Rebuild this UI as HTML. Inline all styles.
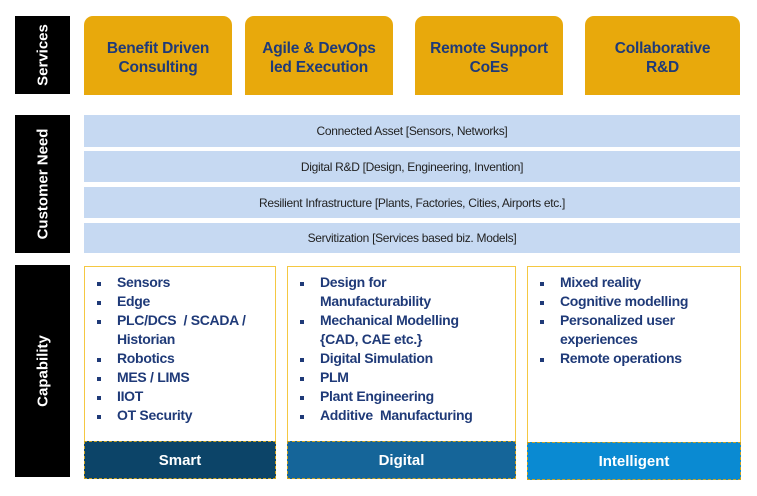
<!DOCTYPE html>
<html><head><style>
body{margin:0;width:757px;height:496px;background:#fff;position:relative;font-family:"Liberation Sans",sans-serif;overflow:hidden}
.bar{position:absolute;left:15px;width:55px;background:#000;}
.bar span{position:absolute;left:50%;top:50%;transform:translate(-50%,-50%) rotate(-90deg);color:#fff;font-weight:bold;font-size:15px;white-space:nowrap}
.svc{position:absolute;top:16px;height:79px;padding-top:4px;box-sizing:border-box;background:#e8a90c;border-radius:9px 9px 0 0;color:#1f3a78;font-weight:bold;font-size:15.5px;text-align:center;display:flex;align-items:center;justify-content:center;line-height:19px;letter-spacing:-0.2px}
.row{position:absolute;left:84px;width:656px;background:#c6d9f2;color:#222;font-size:12px;text-align:center;letter-spacing:-0.3px;display:flex;align-items:center;justify-content:center}
.col{position:absolute;top:266px;border:1px solid #f5c842;background:#fff;box-sizing:border-box}
.col ul{margin:0;padding:6px 0 0 0;list-style:none}
.col li{position:relative;padding-left:32px;font-size:14px;font-weight:bold;color:#1f3a78;line-height:19px;letter-spacing:-0.3px}
.col li.b::before{content:"";position:absolute;left:12px;top:9px;width:4px;height:4px;background:#1f3a78}
.ft{position:absolute;left:-1px;right:-1px;bottom:-1px;height:38px;color:#fff;font-weight:bold;font-size:15px;display:flex;align-items:center;justify-content:center;border:1px dashed #c8a020;box-sizing:border-box}
</style></head><body>
<div class="bar" style="top:16px;height:78px"><span>Services</span></div>
<div class="bar" style="top:115px;height:138px"><span>Customer Need</span></div>
<div class="bar" style="top:265px;height:212px"><span>Capability</span></div>

<div class="svc" style="left:84px;width:148px">Benefit Driven<br>Consulting</div>
<div class="svc" style="left:245px;width:148px">Agile &amp; DevOps<br>led Execution</div>
<div class="svc" style="left:415px;width:148px">Remote Support<br>CoEs</div>
<div class="svc" style="left:585px;width:155px">Collaborative<br>R&amp;D</div>

<div class="row" style="top:115px;height:32px">Connected Asset [Sensors, Networks]</div>
<div class="row" style="top:151px;height:31px">Digital R&amp;D [Design, Engineering, Invention]</div>
<div class="row" style="top:187px;height:31px">Resilient Infrastructure [Plants, Factories, Cities, Airports etc.]</div>
<div class="row" style="top:223px;height:30px">Servitization [Services based biz. Models]</div>

<div class="col" style="left:84px;width:192px;height:213px">
<ul><li class="b">Sensors</li><li class="b">Edge</li><li class="b">PLC/DCS &nbsp;/ SCADA /</li><li>Historian</li><li class="b">Robotics</li><li class="b">MES / LIMS</li><li class="b">IIOT</li><li class="b">OT Security</li></ul>
<div class="ft" style="background:#0c4468">Smart</div></div>
<div class="col" style="left:287px;width:229px;height:213px">
<ul><li class="b">Design for</li><li>Manufacturability</li><li class="b">Mechanical Modelling</li><li>{CAD, CAE etc.}</li><li class="b">Digital Simulation</li><li class="b">PLM</li><li class="b">Plant Engineering</li><li class="b">Additive &nbsp;Manufacturing</li></ul>
<div class="ft" style="background:#156599">Digital</div></div>
<div class="col" style="left:527px;width:214px;height:214px">
<ul><li class="b">Mixed reality</li><li class="b">Cognitive modelling</li><li class="b">Personalized user</li><li>experiences</li><li class="b">Remote operations</li></ul>
<div class="ft" style="background:#0a8ad2">Intelligent</div></div>
</body></html>
